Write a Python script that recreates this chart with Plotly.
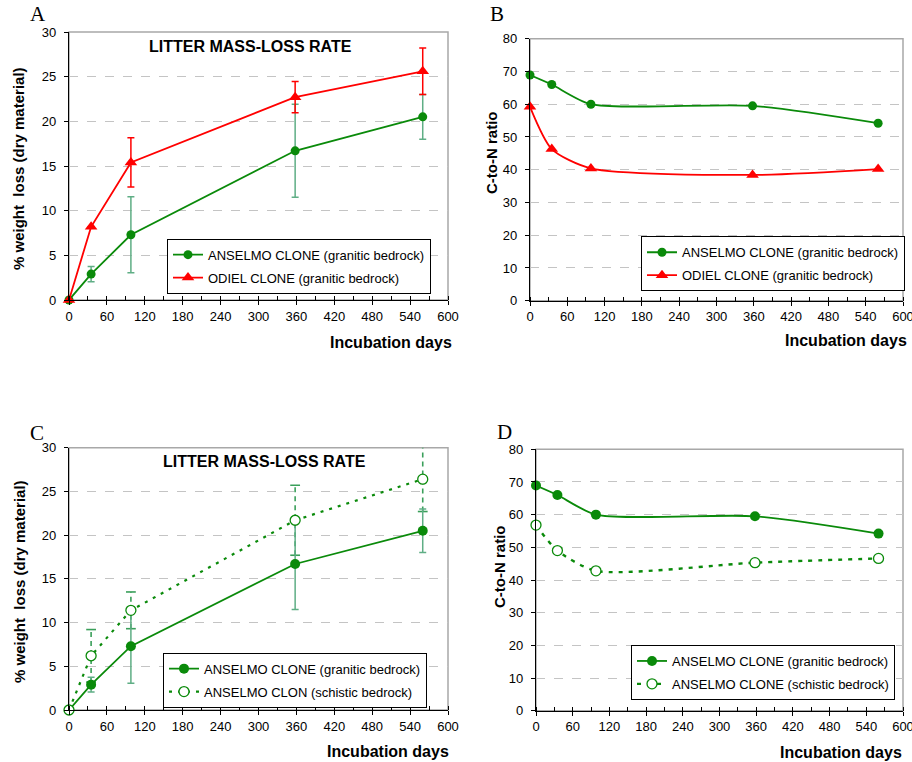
import plotly.graph_objects as go

W, H = 912, 762

# ---------------- data ----------------
days = [0, 35, 98, 358, 560]
day_ticks = [0, 60, 120, 180, 240, 300, 360, 420, 480, 540, 600]

anselmo_loss = [0, 2.9, 7.3, 16.7, 20.5]
anselmo_loss_err = [0, 0.85, 4.25, 5.2, 2.5]
odiel_loss = [0, 8.2, 15.4, 22.7, 25.6]
odiel_loss_err = [0, 0, 2.75, 1.75, 2.6]
schistic_loss = [0, 6.2, 11.4, 21.7, 26.4]
schistic_loss_err = [0, 3.0, 2.1, 4.0, 3.7]

anselmo_cn = [68.9, 66.0, 60.0, 59.5, 54.2]
odiel_cn = [59.2, 46.3, 40.4, 38.4, 40.2]
schistic_cn = [56.8, 49.0, 42.8, 45.3, 46.6]

name_ans = "ANSELMO CLONE (granitic bedrock)"
name_odi = "ODIEL CLONE (granitic bedrock)"
name_sch_c = "ANSELMO CLON (schistic bedrock)"
name_sch_d = "ANSELMO CLONE (schistic bedrock)"

GREEN = "#0a8a0a"
RED = "#ff0000"
ERR_GREEN = "#5fae85"
ERR_GREEN_D = "#3a9f5a"
FONT = "Liberation Sans"
SMOOTH = 0.7


def dom(x0, x1, y0, y1):
    return [x0 / W, x1 / W], [1 - y1 / H, 1 - y0 / H]


panels = {
    "1": dom(69, 448, 32, 300),
    "2": dom(530, 903, 38.7, 300.7),
    "3": dom(69, 448, 447.7, 710),
    "4": dom(536, 903, 449.3, 710.7),
}

fig = go.Figure()

# ---------- Panel A ----------
fig.add_trace(go.Scatter(
    x=days, y=anselmo_loss, name=name_ans, mode="lines+markers",
    line=dict(color=GREEN, width=1.8), marker=dict(symbol="circle", size=9, color=GREEN),
    error_y=dict(type="data", array=anselmo_loss_err, color=ERR_GREEN, thickness=1.5, width=3.5),
    xaxis="x", yaxis="y", legend="legend", legendgroup="a1", cliponaxis=False))
fig.add_trace(go.Scatter(
    x=days, y=odiel_loss, name=name_odi, mode="lines+markers",
    line=dict(color=RED, width=1.8), marker=dict(symbol="triangle-up", size=11, color=RED),
    error_y=dict(type="data", array=odiel_loss_err, color=RED, thickness=1.5, width=3.5),
    xaxis="x", yaxis="y", legend="legend", legendgroup="a2", cliponaxis=False))

# ---------- Panel B ----------
fig.add_trace(go.Scatter(
    x=days, y=anselmo_cn, name=name_ans, mode="lines+markers",
    line=dict(color=GREEN, width=1.8, shape="spline", smoothing=SMOOTH),
    marker=dict(symbol="circle", size=9, color=GREEN),
    xaxis="x2", yaxis="y2", legend="legend2", legendgroup="b1", cliponaxis=False))
fig.add_trace(go.Scatter(
    x=days, y=odiel_cn, name=name_odi, mode="lines+markers",
    line=dict(color=RED, width=1.8, shape="spline", smoothing=SMOOTH),
    marker=dict(symbol="triangle-up", size=11, color=RED),
    xaxis="x2", yaxis="y2", legend="legend2", legendgroup="b2", cliponaxis=False))

# ---------- Panel C ----------
# dashed error bars for schistic series (built from the data arrays)
eb_x, eb_y, cap_x, cap_y = [], [], [], []
for d, v, e in zip(days, schistic_loss, schistic_loss_err):
    if e > 0:
        eb_x += [d, d, None]
        eb_y += [v - e, v + e, None]
        cap_x += [d, d]
        cap_y += [v - e, v + e]
fig.add_trace(go.Scatter(
    x=eb_x, y=eb_y, mode="lines", line=dict(color=ERR_GREEN_D, width=1.6, dash="5px,4px"),
    xaxis="x3", yaxis="y3", showlegend=False, hoverinfo="skip"))
fig.add_trace(go.Scatter(
    x=cap_x, y=cap_y, mode="markers",
    marker=dict(symbol="line-ew", size=7, line=dict(color=ERR_GREEN_D, width=1.6)),
    xaxis="x3", yaxis="y3", showlegend=False, hoverinfo="skip"))

fig.add_trace(go.Scatter(
    x=days, y=anselmo_loss, name=name_ans, mode="lines+markers",
    line=dict(color=GREEN, width=1.8), marker=dict(symbol="circle", size=10, color=GREEN),
    error_y=dict(type="data", array=anselmo_loss_err, color=ERR_GREEN, thickness=1.5, width=3.5),
    xaxis="x3", yaxis="y3", legend="legend3", legendgroup="c1", cliponaxis=False))
fig.add_trace(go.Scatter(
    x=days, y=schistic_loss, name=name_sch_c, mode="lines+markers",
    line=dict(color=GREEN, width=2.2, dash="3px,6px"),
    marker=dict(symbol="circle", size=10, color="white", line=dict(color=GREEN, width=1.3)),
    xaxis="x3", yaxis="y3", legend="legend3", legendgroup="c2", cliponaxis=False))

# ---------- Panel D ----------
fig.add_trace(go.Scatter(
    x=days, y=anselmo_cn, name=name_ans, mode="lines+markers",
    line=dict(color=GREEN, width=1.8, shape="spline", smoothing=SMOOTH),
    marker=dict(symbol="circle", size=10, color=GREEN),
    xaxis="x4", yaxis="y4", legend="legend4", legendgroup="d1", cliponaxis=False))
fig.add_trace(go.Scatter(
    x=days, y=schistic_cn, name=name_sch_d, mode="lines+markers",
    line=dict(color=GREEN, width=2.4, dash="4px,6px", shape="spline", smoothing=SMOOTH),
    marker=dict(symbol="circle", size=10, color="white", line=dict(color=GREEN, width=1.3)),
    xaxis="x4", yaxis="y4", legend="legend4", legendgroup="d2", cliponaxis=False))

# ---------- axes ----------
tickfont = dict(family=FONT, size=13, color="black")
layout_axes = {}
for k, (xd, yd) in panels.items():
    sfx = "" if k == "1" else k
    layout_axes["xaxis" + sfx] = dict(
        domain=xd, anchor="y" + sfx, range=[0, 600], tickvals=day_ticks,
        ticks="outside", ticklen=4, tickcolor="black", tickwidth=1,
        minor=dict(dtick=30, tick0=0, ticks="inside", ticklen=4, tickcolor="black", tickwidth=1),
        showline=True, linecolor="black", linewidth=1.2, showgrid=False, zeroline=False,
        tickfont=tickfont, fixedrange=True, automargin=False, ticklabeloverflow="allow")
    is_loss = k in ("1", "3")
    layout_axes["yaxis" + sfx] = dict(
        domain=yd, anchor="x" + sfx, range=[0, 30] if is_loss else [0, 80],
        dtick=5 if is_loss else 10, ticks="outside", ticklen=4, tickcolor="black",
        showline=True, linecolor="black", linewidth=1.2, showgrid=True,
        gridcolor="#c4c4c4", gridwidth=1, griddash="dash", zeroline=False,
        tickfont=tickfont, ticklabelstandoff=5, fixedrange=True, automargin=False)

fig.update_layout(**layout_axes)

# frame (gray top/right)
shapes = []
for k in panels:
    sfx = "" if k == "1" else k
    shapes.append(dict(type="rect", xref=("x" + sfx) + " domain", yref=("y" + sfx) + " domain",
                       x0=0, x1=1, y0=0, y1=1, line=dict(color="#a8a8a8", width=1.5),
                       layer="below"))

# legends
def legend_at(x, y):
    return dict(x=x / W, y=1 - y / H, xanchor="left", yanchor="top",
                bordercolor="black", borderwidth=1, bgcolor="white",
                font=dict(family=FONT, size=13, color="black"),
                traceorder="grouped", tracegroupgap=3, itemwidth=30)

annotations = []
def ann(text, x, y, size, bold=False, family=FONT, xanchor="center", angle=0):
    annotations.append(dict(text=("<b>%s</b>" % text) if bold else text, x=x / W, y=1 - y / H,
                            xref="paper", yref="paper", showarrow=False, xanchor=xanchor,
                            yanchor="middle", textangle=angle,
                            font=dict(family=family, size=size, color="black")))

# panel letters
ann("A", 38, 14, 21, family="Liberation Serif")
ann("B", 497, 14, 21, family="Liberation Serif")
ann("C", 37, 433, 21, family="Liberation Serif")
ann("D", 504, 432, 21, family="Liberation Serif")
# inner titles
ann("LITTER MASS-LOSS RATE", 250, 46, 16, bold=True)
ann("LITTER MASS-LOSS RATE", 264, 461, 16, bold=True)
# x-axis titles
ann("Incubation days", 454, 342, 16, bold=True, xanchor="right")
ann("Incubation days", 909, 341, 16, bold=True, xanchor="right")
ann("Incubation days", 451, 751, 16, bold=True, xanchor="right")
ann("Incubation days", 904, 752, 16, bold=True, xanchor="right")
# y-axis titles
ann("% weight  loss (dry material)", 19, 169, 15, bold=True, angle=-90)
ann("C-to-N ratio", 492, 153, 15, bold=True, angle=-90)
ann("% weight  loss (dry material)", 19, 582, 15, bold=True, angle=-90)
ann("C-to-N ratio", 499, 567, 15, bold=True, angle=-90)

fig.update_layout(
    width=W, height=H, margin=dict(l=0, r=0, t=0, b=0),
    paper_bgcolor="white", plot_bgcolor="white",
    showlegend=True,
    legend=legend_at(167, 238.7),
    legend2=legend_at(641, 236.3),
    legend3=legend_at(163, 652.7),
    legend4=legend_at(631, 645),
    shapes=shapes, annotations=annotations,
    font=dict(family=FONT, color="black"),
)

fig.write_html(
    "out.html",
    config={"displayModeBar": False},
    post_script="document.body.style.margin='0';document.body.style.overflow='hidden';",
)
